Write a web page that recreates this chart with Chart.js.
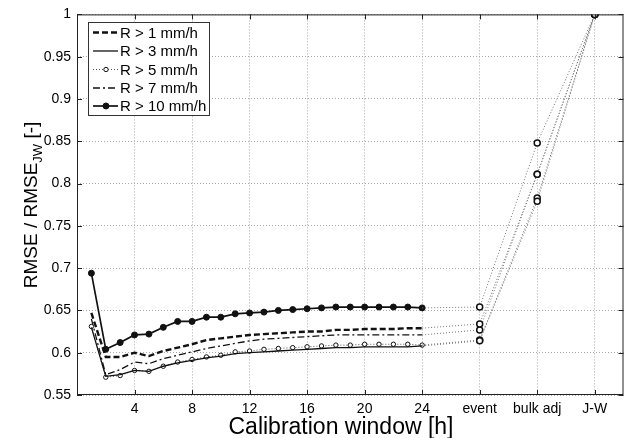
<!DOCTYPE html>
<html>
<head>
<meta charset="utf-8">
<script src="https://cdn.jsdelivr.net/npm/chart.js@4/dist/chart.umd.min.js"></script>
<style>
  body { margin: 0; background: #fff; }
  canvas { display: block; }
</style>
</head>
<body>
<canvas id="chart" width="629" height="438"></canvas>
<script>
// calibration window lengths [h]
const hours = [1, 2, 3, 4, 5, 6, 7, 8, 9, 10, 11, 12, 13, 14, 15, 16, 17, 18, 19, 20, 21, 22, 23, 24];

const r1 = [0.647, 0.595, 0.595, 0.600, 0.596, 0.602, 0.606, 0.610, 0.615, 0.617, 0.619, 0.621, 0.622, 0.623, 0.624, 0.625, 0.625, 0.627, 0.627, 0.628, 0.628, 0.628, 0.629, 0.629];
const r3 = [0.630, 0.572, 0.574, 0.579, 0.578, 0.584, 0.588, 0.591, 0.594, 0.596, 0.599, 0.600, 0.601, 0.602, 0.603, 0.604, 0.605, 0.606, 0.606, 0.607, 0.607, 0.607, 0.607, 0.608];
const r5 = [0.631, 0.571, 0.573, 0.579, 0.578, 0.584, 0.589, 0.592, 0.595, 0.597, 0.601, 0.602, 0.604, 0.605, 0.606, 0.607, 0.608, 0.609, 0.609, 0.610, 0.610, 0.610, 0.610, 0.609];
const r7 = [0.640, 0.574, 0.580, 0.589, 0.587, 0.593, 0.597, 0.601, 0.605, 0.608, 0.611, 0.614, 0.616, 0.617, 0.618, 0.619, 0.620, 0.621, 0.621, 0.621, 0.621, 0.621, 0.621, 0.621];
const r10 = [0.694, 0.604, 0.612, 0.621, 0.622, 0.630, 0.637, 0.637, 0.642, 0.642, 0.646, 0.647, 0.648, 0.650, 0.651, 0.652, 0.653, 0.654, 0.654, 0.654, 0.654, 0.654, 0.654, 0.653];

// other methods: event, bulk adj, J-W
const methodLabels = ["event", "bulk adj", "J-W"];
const methodPos = [28, 32, 36];
const m1 = [0.634, 0.811, 1];
const m3 = [0.614, 0.779, 1];
const m5 = [0.615, 0.783, 1];
const m7 = [0.627, 0.811, 1];
const m10 = [0.654, 0.848, 1];

const seriesNames = ["R > 1 mm/h", "R > 3 mm/h", "R > 5 mm/h", "R > 7 mm/h", "R > 10 mm/h"];

const xTicks = [4, 8, 12, 16, 20, 24, 28, 32, 36];
const yTicks = [0.55, 0.6, 0.65, 0.7, 0.75, 0.8, 0.85, 0.9, 0.95, 1];

const FONT = "'Liberation Sans', Arial, Helvetica, sans-serif";

function pts(xs, ys) {
  return xs.map((x, i) => ({ x: x, y: ys[i] }));
}

function tail(hourly, methods) {
  return {
    data: pts([24].concat(methodPos), [hourly[hourly.length - 1]].concat(methods)),
    borderColor: "#777",
    borderWidth: 1,
    borderDash: [1, 2],
    pointRadius: [0, 3, 3, 3],
    pointBackgroundColor: "#fff",
    pointBorderColor: "#111",
    pointBorderWidth: 1.5
  };
}

const mainSets = [
  { label: seriesNames[0], data: pts(hours, r1), borderColor: "#111", borderWidth: 2.4, borderDash: [6, 3], pointRadius: 0 },
  { label: seriesNames[1], data: pts(hours, r3), borderColor: "#111", borderWidth: 1.3, pointRadius: 0 },
  { label: seriesNames[2], data: pts(hours, r5), borderColor: "#555", borderWidth: 1, borderDash: [1, 2], pointRadius: 2.2,
    pointBackgroundColor: "#fff", pointBorderColor: "#111", pointBorderWidth: 1 },
  { label: seriesNames[3], data: pts(hours, r7), borderColor: "#111", borderWidth: 1.3, borderDash: [7, 3, 2, 3], pointRadius: 0 },
  { label: seriesNames[4], data: pts(hours, r10), borderColor: "#111", borderWidth: 1.7, pointRadius: 3,
    pointBackgroundColor: "#111", pointBorderColor: "#111", pointBorderWidth: 1 }
];

const tailSets = [tail(r1, m1), tail(r3, m3), tail(r5, m5), tail(r7, m7), tail(r10, m10)];

// frame, inner tick marks, axis titles and the legend box
const decorations = {
  id: "decorations",
  afterDraw(chart) {
    const ctx = chart.ctx;
    const a = chart.chartArea;
    const xs = chart.scales.x;
    const ys = chart.scales.y;
    ctx.save();

    ctx.strokeStyle = "#222";
    ctx.lineWidth = 1;
    ctx.setLineDash([]);
    ctx.strokeRect(a.left + 0.5, a.top + 0.5, a.right - a.left - 1, a.bottom - a.top - 1);
    ctx.beginPath();
    xTicks.forEach(v => {
      const px = Math.round(xs.getPixelForValue(v)) + 0.5;
      ctx.moveTo(px, a.bottom); ctx.lineTo(px, a.bottom - 5);
      ctx.moveTo(px, a.top); ctx.lineTo(px, a.top + 5);
    });
    yTicks.forEach(v => {
      const py = Math.round(ys.getPixelForValue(v)) + 0.5;
      ctx.moveTo(a.left, py); ctx.lineTo(a.left + 5, py);
      ctx.moveTo(a.right, py); ctx.lineTo(a.right - 5, py);
    });
    ctx.stroke();

    // x title
    ctx.fillStyle = "#000";
    ctx.font = "23px " + FONT;
    ctx.textAlign = "center";
    ctx.textBaseline = "alphabetic";
    ctx.fillText("Calibration window [h]", 341, 434);

    // y title with subscript
    ctx.save();
    ctx.translate(30, 205);
    ctx.rotate(-Math.PI / 2);
    const big = "19px " + FONT;
    const small = "13px " + FONT;
    ctx.font = big;
    const w1 = ctx.measureText("RMSE / RMSE").width;
    const w3 = ctx.measureText(" [-]").width;
    ctx.font = small;
    const w2 = ctx.measureText("JW").width;
    const x0 = -(w1 + w2 + w3) / 2;
    ctx.textAlign = "left";
    ctx.font = big;
    ctx.fillText("RMSE / RMSE", x0, 7);
    ctx.font = small;
    ctx.fillText("JW", x0 + w1, 12);
    ctx.font = big;
    ctx.fillText(" [-]", x0 + w1 + w2, 7);
    ctx.restore();

    // legend
    const bx = 88, by = 22, bw = 121, bh = 93;
    ctx.fillStyle = "#fff";
    ctx.fillRect(bx, by, bw, bh);
    ctx.strokeStyle = "#333";
    ctx.strokeRect(bx + 0.5, by + 0.5, bw, bh);
    const rows = [32.5, 51, 69.5, 88, 106];
    mainSets.forEach((ds, i) => {
      const y = rows[i];
      ctx.strokeStyle = ds.borderColor;
      ctx.lineWidth = ds.borderWidth;
      ctx.setLineDash(ds.borderDash || []);
      ctx.beginPath();
      ctx.moveTo(93, y);
      ctx.lineTo(118, y);
      ctx.stroke();
      ctx.setLineDash([]);
      if (ds.pointRadius > 0) {
        ctx.beginPath();
        ctx.arc(106, y, ds.pointRadius, 0, Math.PI * 2);
        ctx.fillStyle = ds.pointBackgroundColor;
        ctx.fill();
        ctx.lineWidth = 1;
        ctx.strokeStyle = ds.pointBorderColor;
        ctx.stroke();
      }
      ctx.fillStyle = "#000";
      ctx.font = "15px " + FONT;
      ctx.textAlign = "left";
      ctx.textBaseline = "middle";
      ctx.fillText(ds.label, 120, y + 1);
    });
    ctx.restore();
  }
};

const ctx = document.getElementById("chart").getContext("2d");
new Chart(ctx, {
  type: "line",
  data: { datasets: tailSets.concat(mainSets) },
  options: {
    responsive: false,
    animation: false,
    devicePixelRatio: 1,
    layout: { padding: { top: 14, right: 4, left: 0, bottom: 0 } },
    elements: { line: { tension: 0, fill: false } },
    scales: {
      x: {
        type: "linear",
        min: 0,
        max: 38,
        afterBuildTicks: s => { s.ticks = xTicks.map(v => ({ value: v })); },
        afterFit: s => { s.height = 43; },
        ticks: {
          color: "#000",
          font: { size: 14, family: FONT },
          padding: 6,
          maxRotation: 0,
          autoSkip: false,
          callback: v => {
            const k = methodPos.indexOf(v);
            return k >= 0 ? methodLabels[k] : String(v);
          }
        },
        grid: { color: "#aaa", lineWidth: 1, drawTicks: false },
        border: { display: false, dash: [1, 2] }
      },
      y: {
        type: "linear",
        min: 0.55,
        max: 1,
        afterBuildTicks: s => { s.ticks = yTicks.map(v => ({ value: v })); },
        afterFit: s => { s.width = 77; },
        ticks: {
          color: "#000",
          font: { size: 14, family: FONT },
          padding: 6,
          callback: v => String(Math.round(v * 100) / 100)
        },
        grid: { color: "#aaa", lineWidth: 1, drawTicks: false },
        border: { display: false, dash: [1, 2] }
      }
    },
    plugins: {
      legend: { display: false },
      tooltip: { enabled: false }
    }
  },
  plugins: [decorations]
});
</script>
</body>
</html>
